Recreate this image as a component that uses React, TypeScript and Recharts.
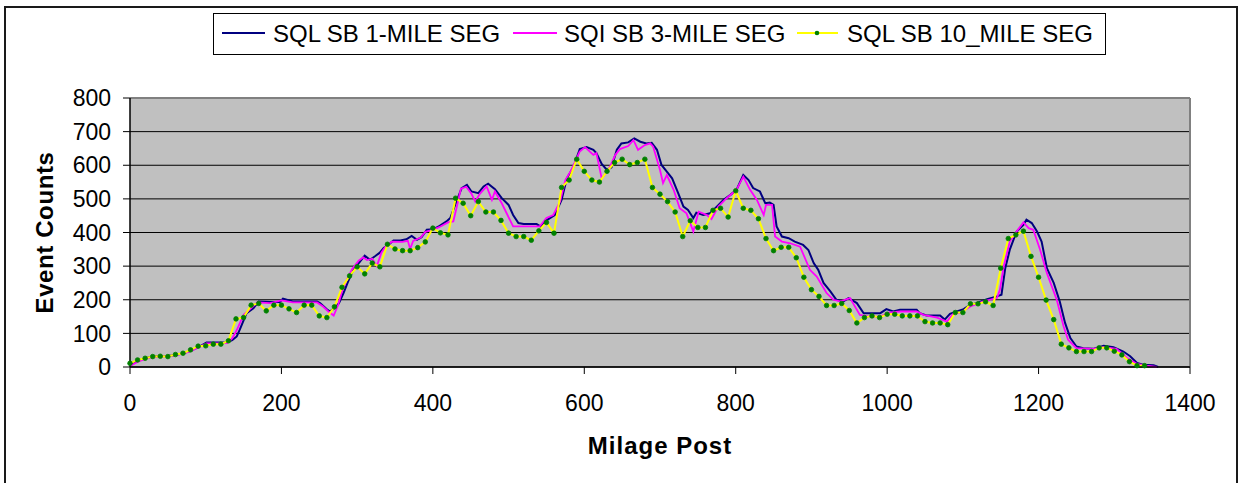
import React from 'react';
import { LineChart, Line, XAxis, YAxis, CartesianGrid, Legend, ReferenceLine } from 'recharts';

const X_TICKS = [0, 200, 400, 600, 800, 1000, 1200, 1400];
const Y_TICKS = [0, 100, 200, 300, 400, 500, 600, 700, 800];

const SERIES_NAMES = ['SQL SB 1-MILE SEG', 'SQI SB 3-MILE SEG', 'SQL SB 10_MILE SEG'];

// 1-mile segments (blue)
const SEG1_MILE = [0, 2, 10, 20, 31, 50, 60, 70, 80, 92, 101, 128, 135, 141, 145, 154, 163, 170, 185, 198, 202, 215, 247, 251, 260, 264, 270, 276, 282, 288, 295, 304, 310, 317, 324, 330, 335, 341, 348, 357, 365, 372, 379, 385, 392, 401, 409, 418, 423, 432, 438, 445, 451, 460, 467, 473, 482, 491, 500, 506, 513, 520, 537, 542, 550, 561, 570, 577, 586, 594, 603, 612, 616, 623, 630, 636, 643, 649, 658, 666, 674, 682, 689, 696, 702, 709, 716, 724, 731, 737, 744, 748, 757, 766, 775, 784, 793, 801, 810, 817, 823, 832, 839, 845, 850, 854, 861, 870, 878, 889, 896, 903, 909, 916, 925, 933, 942, 949, 960, 969, 977, 991, 999, 1008, 1017, 1039, 1043, 1052, 1070, 1076, 1083, 1092, 1101, 1110, 1118, 1132, 1145, 1151, 1156, 1162, 1171, 1180, 1184, 1191, 1198, 1204, 1211, 1220, 1228, 1235, 1242, 1250, 1259, 1272, 1286, 1299, 1312, 1321, 1330, 1338, 1352, 1358];
const SEG1_COUNT = [5, 7, 18, 26, 32, 33, 36, 41, 48, 61, 73, 73, 80, 91, 111, 160, 175, 195, 193, 193, 203, 195, 195, 190, 172, 165, 175, 190, 220, 254, 289, 314, 331, 319, 330, 340, 354, 363, 376, 376, 380, 390, 378, 386, 408, 410, 420, 433, 443, 497, 532, 542, 522, 517, 537, 545, 529, 502, 482, 452, 428, 425, 425, 418, 436, 452, 497, 561, 596, 648, 654, 646, 636, 604, 586, 594, 646, 665, 668, 680, 670, 665, 667, 646, 601, 581, 561, 517, 477, 467, 443, 459, 452, 457, 477, 497, 512, 527, 571, 556, 532, 522, 487, 489, 482, 418, 388, 383, 373, 363, 348, 309, 289, 250, 225, 200, 195, 205, 190, 160, 160, 160, 172, 165, 170, 170, 160, 153, 153, 141, 158, 165, 172, 185, 190, 202, 210, 215, 294, 349, 403, 423, 438, 428, 403, 373, 294, 250, 195, 131, 86, 61, 56, 54, 63, 59, 46, 32, 12, 7, 5, 0];

// 3-mile segments (magenta)
const SEG3_MILE = [0, 10, 20, 31, 50, 60, 70, 80, 92, 101, 128, 135, 141, 150, 160, 168, 185, 200, 215, 247, 255, 262, 269, 275, 280, 286, 293, 302, 308, 313, 320, 326, 332, 338, 346, 360, 367, 370, 374, 384, 390, 400, 410, 420, 427, 432, 437, 444, 451, 456, 462, 471, 478, 482, 491, 506, 515, 541, 550, 559, 568, 575, 583, 594, 601, 612, 616, 623, 632, 641, 647, 658, 665, 671, 680, 687, 691, 700, 704, 709, 718, 726, 735, 744, 751, 762, 768, 777, 788, 801, 810, 819, 828, 837, 840, 848, 852, 861, 872, 885, 898, 907, 920, 929, 938, 951, 964, 977, 991, 1002, 1017, 1039, 1048, 1066, 1079, 1088, 1096, 1110, 1127, 1145, 1149, 1154, 1162, 1171, 1180, 1187, 1193, 1202, 1211, 1224, 1233, 1239, 1250, 1272, 1286, 1303, 1317, 1330, 1343, 1356];
const SEG3_COUNT = [3, 15, 24, 30, 32, 35, 40, 47, 60, 70, 71, 85, 110, 155, 175, 192, 190, 198, 192, 192, 180, 165, 153, 185, 225, 258, 290, 316, 326, 318, 322, 300, 340, 360, 373, 372, 375, 351, 375, 385, 402, 408, 418, 430, 433, 480, 530, 536, 515, 492, 515, 537, 497, 522, 487, 418, 418, 418, 443, 452, 492, 556, 586, 641, 654, 631, 636, 561, 586, 631, 648, 657, 675, 646, 660, 665, 655, 586, 547, 571, 527, 472, 457, 403, 462, 452, 440, 477, 502, 527, 566, 527, 497, 452, 482, 482, 388, 373, 368, 358, 289, 269, 220, 200, 195, 205, 155, 150, 150, 162, 165, 165, 155, 147, 135, 160, 160, 180, 195, 205, 230, 299, 373, 403, 430, 413, 408, 349, 279, 200, 121, 81, 56, 54, 59, 54, 27, 9, 4, 0];

// 10-mile segments (yellow with green markers)
const SEG10_MILE = [0, 10, 20, 30, 40, 50, 60, 70, 80, 90, 100, 110, 120, 130, 140, 150, 160, 170, 180, 190, 200, 210, 220, 230, 240, 250, 260, 270, 280, 290, 300, 310, 320, 330, 340, 350, 360, 370, 380, 390, 400, 410, 420, 430, 440, 450, 460, 470, 480, 490, 500, 510, 520, 530, 540, 550, 560, 570, 580, 590, 600, 610, 620, 630, 640, 650, 660, 670, 680, 690, 700, 710, 720, 730, 740, 750, 760, 770, 780, 790, 800, 810, 820, 830, 840, 850, 860, 870, 880, 890, 900, 910, 920, 930, 940, 950, 960, 970, 980, 990, 1000, 1010, 1020, 1030, 1040, 1050, 1060, 1070, 1080, 1090, 1100, 1110, 1120, 1130, 1140, 1150, 1160, 1170, 1180, 1190, 1200, 1210, 1220, 1230, 1240, 1250, 1260, 1270, 1280, 1290, 1300, 1310, 1320, 1330, 1340];
const SEG10_COUNT = [11, 21, 26, 31, 32, 31, 37, 41, 51, 62, 63, 68, 68, 78, 143, 147, 184, 189, 167, 184, 184, 173, 162, 184, 184, 152, 147, 179, 237, 271, 298, 277, 309, 298, 365, 351, 346, 346, 355, 372, 413, 399, 393, 502, 487, 450, 492, 461, 461, 436, 398, 388, 388, 377, 405, 430, 398, 534, 556, 618, 582, 556, 550, 582, 608, 618, 602, 608, 618, 534, 514, 492, 461, 388, 435, 415, 415, 466, 472, 446, 524, 472, 466, 441, 382, 346, 356, 356, 325, 267, 230, 210, 183, 183, 189, 168, 131, 147, 152, 147, 157, 157, 152, 152, 152, 135, 131, 131, 126, 162, 162, 188, 188, 194, 183, 294, 382, 393, 404, 329, 267, 199, 141, 68, 57, 46, 46, 46, 57, 57, 47, 36, 16, 4, 4];

const COLORS = { seg1: '#000080', seg3: '#FF00FF', seg10: '#FFFF00', marker: '#008000' };
const FONT = '"Liberation Sans", Arial, Helvetica, sans-serif';

const toRows = (xs: number[], ys: number[]) => xs.map((x, i) => ({ x, y: ys[i] }));
const seg1 = toRows(SEG1_MILE, SEG1_COUNT);
const seg3 = toRows(SEG3_MILE, SEG3_COUNT);
const seg10 = toRows(SEG10_MILE, SEG10_COUNT);

const LegendBox = () => (
  <div style={{ width: 893, height: 42, boxSizing: 'border-box', border: '1px solid #000', background: '#fff' }}>
    <svg width={891} height={40} style={{ display: 'block' }}>
      <line x1={8} x2={51} y1={19} y2={19} stroke={COLORS.seg1} strokeWidth={2} />
      <text x={59} y={27.5} fontSize={24} fontFamily={FONT} fill="#000">{SERIES_NAMES[0]}</text>
      <line x1={299} x2={343} y1={19} y2={19} stroke={COLORS.seg3} strokeWidth={2} />
      <text x={350} y={27.5} fontSize={24} fontFamily={FONT} fill="#000">{SERIES_NAMES[1]}</text>
      <line x1={583} x2={624} y1={19} y2={19} stroke={COLORS.seg10} strokeWidth={2} />
      <circle cx={603} cy={19} r={2.3} fill={COLORS.marker} />
      <text x={633} y={27.5} fontSize={24} fontFamily={FONT} fill="#000">{SERIES_NAMES[2]}</text>
    </svg>
  </div>
);

const XTitle = (props: any) => {
  const vb = props.viewBox || { x: 130, y: 367, width: 1060, height: 116 };
  return (
    <text x={vb.x + vb.width / 2} y={vb.y + 87} textAnchor="middle" fontSize={24} fontWeight="bold" letterSpacing={1} fontFamily={FONT} fill="#000">
      Milage Post
    </text>
  );
};

const YTitle = (props: any) => {
  const vb = props.viewBox || { x: 0, y: 98, width: 130, height: 269 };
  const cx = vb.x + 52.5;
  const cy = vb.y + vb.height / 2;
  return (
    <text x={cx} y={cy} transform={`rotate(-90, ${cx}, ${cy})`} textAnchor="middle" fontSize={24} fontWeight="bold" letterSpacing={0.6} fontFamily={FONT} fill="#000">
      Event Counts
    </text>
  );
};

export default function App() {
  return (
    <div style={{ position: 'absolute', left: 0, top: 0, width: 1239, height: 483, overflow: 'hidden', background: '#fff' }}>
      <div style={{ position: 'absolute', left: 4, top: 6, width: 1234, height: 477, boxSizing: 'border-box', borderTop: '2px solid #1a1a1a', borderLeft: '2px solid #1a1a1a', borderRight: '2px solid #1a1a1a' }} />
      <div style={{ position: 'absolute', left: 0, top: 0 }}>
        <LineChart width={1239} height={483} margin={{ top: 98, right: 49, bottom: 0, left: 0 }}>
          <CartesianGrid vertical={false} stroke="#000" strokeWidth={1} fill="#C0C0C0" fillOpacity={1} />
          <XAxis
            type="number"
            dataKey="x"
            domain={[0, 1400]}
            ticks={X_TICKS}
            interval={0}
            height={116}
            tickSize={7}
            tickMargin={21}
            axisLine={{ stroke: '#000', strokeWidth: 1.5 }}
            tickLine={{ stroke: '#000' }}
            tick={{ fontSize: 23, fill: '#000', fontFamily: FONT }}
            label={<XTitle />}
          />
          <YAxis
            type="number"
            domain={[0, 800]}
            ticks={Y_TICKS}
            interval={0}
            width={130}
            tickSize={7}
            tickMargin={12}
            axisLine={{ stroke: '#000', strokeWidth: 1.5 }}
            tickLine={{ stroke: '#000' }}
            tick={{ fontSize: 23, fill: '#000', fontFamily: FONT }}
            label={<YTitle />}
          />
          <ReferenceLine y={800} stroke="#808080" strokeWidth={2} />
          <ReferenceLine x={1400} stroke="#808080" strokeWidth={2} />
          <Legend verticalAlign="middle" align="center" layout="horizontal" content={<LegendBox />} wrapperStyle={{ top: 13, left: 213, width: 893, height: 42 }} />
          <Line data={seg1} dataKey="y" name={SERIES_NAMES[0]} type="linear" stroke={COLORS.seg1} strokeWidth={2} dot={false} isAnimationActive={false} />
          <Line data={seg3} dataKey="y" name={SERIES_NAMES[1]} type="linear" stroke={COLORS.seg3} strokeWidth={1.8} dot={false} isAnimationActive={false} />
          <Line data={seg10} dataKey="y" name={SERIES_NAMES[2]} type="linear" stroke={COLORS.seg10} strokeWidth={2} dot={{ r: 2.3, fill: COLORS.marker, stroke: COLORS.marker, strokeWidth: 0.8 }} isAnimationActive={false} />
        </LineChart>
      </div>
    </div>
  );
}
